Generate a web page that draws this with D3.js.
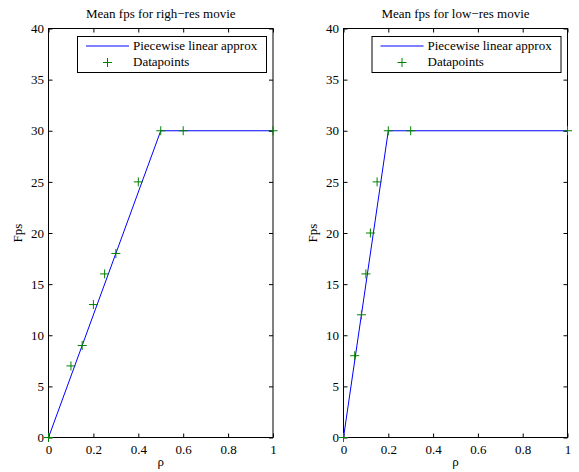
<!DOCTYPE html>
<html><head><meta charset="utf-8">
<script src="https://cdn.jsdelivr.net/npm/d3@7"></script>
<style>body{margin:0;background:#fff}svg{display:block}text{font-family:"Liberation Serif","Times New Roman",serif;fill:#000}</style>
</head><body>
<svg id="c" width="579" height="472"></svg>
<script>
const titles = ["Mean fps for righ\u2212res movie", "Mean fps for low\u2212res movie"];
const legendLabels = ["Piecewise linear approx", "Datapoints"];
const xTicks = [0, 0.2, 0.4, 0.6, 0.8, 1];
const yTicks = [0, 5, 10, 15, 20, 25, 30, 35, 40];
// high-res
const hiLineX = [0, 0.5, 1];
const hiLineY = [0, 30, 30];
const hiPtX = [0, 0.1, 0.15, 0.2, 0.25, 0.3, 0.4, 0.5, 0.6, 1];
const hiPtY = [0, 7, 9, 13, 16, 18, 25, 30, 30, 30];
// low-res
const loLineX = [0, 0.2, 1];
const loLineY = [0, 30, 30];
const loPtX = [0, 0.05, 0.08, 0.1, 0.12, 0.15, 0.2, 0.3, 1];
const loPtY = [0, 8, 12, 16, 20, 25, 30, 30, 30];

const panels = [
  {title: titles[0], lx: hiLineX, ly: hiLineY, px: hiPtX, py: hiPtY, x0: 48.5, x1: 273},
  {title: titles[1], lx: loLineX, ly: loLineY, px: loPtX, py: loPtY, x0: 343.5, x1: 567.5}
];
const svg = d3.select("#c");
const plotTop = 28.5, plotBottom = 437.5;
const FF = '"Liberation Serif","Times New Roman",serif';
panels.forEach(p => {
  const x = d3.scaleLinear().domain([0, 1]).range([p.x0, p.x1]);
  const y = d3.scaleLinear().domain([0, 40]).range([plotBottom, plotTop]);
  const g = svg.append("g");
  const bx = g.append("g").attr("transform", `translate(0,${plotBottom})`)
    .call(d3.axisBottom(x).tickValues(xTicks).tickSize(-4).tickPadding(7).tickFormat(d3.format("~g")));
  const tx = g.append("g").attr("transform", `translate(0,${plotTop})`)
    .call(d3.axisTop(x).tickValues(xTicks).tickSize(-4).tickFormat(""));
  const ly = g.append("g").attr("transform", `translate(${p.x0},0)`)
    .call(d3.axisLeft(y).tickValues(yTicks).tickSize(-4).tickPadding(4.5));
  const ry = g.append("g").attr("transform", `translate(${p.x1},0)`)
    .call(d3.axisRight(y).tickValues(yTicks).tickSize(-4).tickFormat(""));
  [bx, tx, ly, ry].forEach(a => {
    a.attr("font-family", FF);
    a.select(".domain").remove();
    a.selectAll("line").attr("stroke", "#000");
    a.selectAll("text").attr("font-family", FF).attr("font-size", "13px").attr("fill", "#000");
  });
  g.append("rect").attr("x", p.x0).attr("y", plotTop).attr("width", p.x1 - p.x0).attr("height", plotBottom - plotTop)
    .attr("fill", "none").attr("stroke", "#000").attr("stroke-width", 1);
  const lineData = p.lx.map((v, i) => [v, p.ly[i]]);
  g.append("path").datum(lineData)
    .attr("d", d3.line().x(d => x(d[0])).y(d => y(d[1])))
    .attr("fill", "none").attr("stroke", "#0000ff").attr("stroke-width", 1);
  const pts = p.px.map((v, i) => [v, p.py[i]]);
  const s = 4.5;
  g.selectAll(".pt").data(pts).join("path").attr("class", "pt")
    .attr("d", d => { const cx = x(d[0]), cy = y(d[1]); return `M${cx - s},${cy}H${cx + s}M${cx},${cy - s}V${cy + s}`; })
    .attr("stroke", "#008000").attr("stroke-width", 1).attr("fill", "none");
  g.append("text").attr("x", (p.x0 + p.x1) / 2).attr("y", 18).attr("text-anchor", "middle")
    .attr("font-family", FF).attr("font-size", "13px").text(p.title);
  g.append("text").attr("x", (p.x0 + p.x1) / 2).attr("y", 465.5).attr("text-anchor", "middle")
    .attr("font-family", FF).attr("font-size", "13px").text("\u03c1");
  g.append("text").attr("transform", `translate(${p.x0 - 26.5},${(plotTop + plotBottom) / 2}) rotate(-90)`)
    .attr("text-anchor", "middle").attr("font-family", FF).attr("font-size", "13px").text("Fps");
  const lx0 = p.x1 - 196, ly0 = 36;
  const leg = g.append("g");
  leg.append("rect").attr("x", lx0 + 0.5).attr("y", ly0 + 0.5).attr("width", 189).attr("height", 36)
    .attr("fill", "#fff").attr("stroke", "#000").attr("stroke-width", 1);
  leg.append("line").attr("x1", lx0 + 9).attr("x2", lx0 + 52).attr("y1", ly0 + 10).attr("y2", ly0 + 10)
    .attr("stroke", "#0000ff").attr("stroke-width", 1);
  const mx = lx0 + 30.5, my = ly0 + 26.5;
  leg.append("path").attr("d", `M${mx - s},${my}H${mx + s}M${mx},${my - s}V${my + s}`)
    .attr("stroke", "#008000").attr("stroke-width", 1);
  leg.append("text").attr("x", lx0 + 56).attr("y", ly0 + 13.5).attr("font-family", FF).attr("font-size", "13px").text(legendLabels[0]);
  leg.append("text").attr("x", lx0 + 56).attr("y", ly0 + 30).attr("font-family", FF).attr("font-size", "13px").text(legendLabels[1]);
});
</script>
</body></html>
